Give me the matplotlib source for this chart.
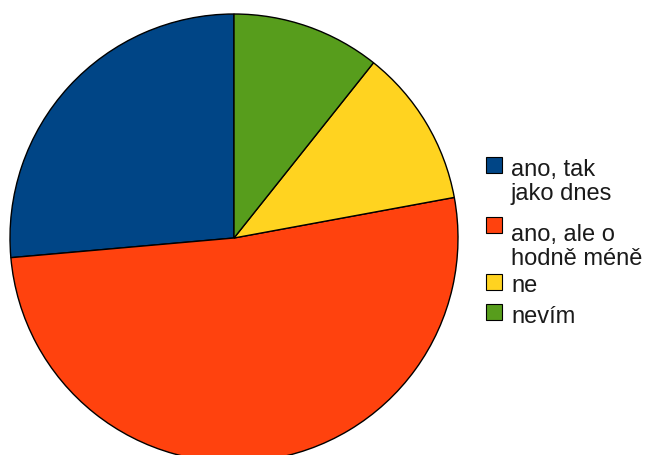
import matplotlib.pyplot as plt
from matplotlib.patches import Rectangle

labels = ["ano, tak\njako dnes", "ano, ale o\nhodně méně", "ne", "nevím"]
values = [26.4, 51.5, 11.4, 10.7]
colors = ["#004586", "#ff420e", "#ffd320", "#579d1c"]

# legend layout (pixel rows, from top): box centre and first-line baseline
box_y = [165, 225, 282, 312]
text_y = [176, 241, 292, 323]
line_step = 24

plt.rcParams['font.family'] = ['Liberation Sans', 'DejaVu Sans']

W, H = 649, 455
fig = plt.figure(figsize=(W / 100, H / 100), dpi=100)
# pie centred at (234, 238) px, radius 224 px
ax = fig.add_axes([10/W, -7/H, 448/W, 448/H])
ax.pie(values, colors=colors, startangle=90, counterclock=True,
       wedgeprops=dict(edgecolor="black", linewidth=1.0))
ax.set_xlim(-1.0, 1.0)
ax.set_ylim(-1.0, 1.0)
ax.set_aspect("equal")
ax.axis("off")

# hand-made legend to match the spacing
for lab, c, by, ty in zip(labels, colors, box_y, text_y):
    fig.patches.append(Rectangle((486/W, 1 - (by + 8)/H), 16/W, 16/H,
                                 facecolor=c, edgecolor="black", linewidth=0.8,
                                 transform=fig.transFigure, figure=fig))
    for i, line in enumerate(lab.split("\n")):
        fig.text(511/W, 1 - (ty + i * line_step)/H, line, fontsize=17,
                 va="baseline", ha="left", color="#1a1a1a")

fig.savefig("out.png", dpi=100)
